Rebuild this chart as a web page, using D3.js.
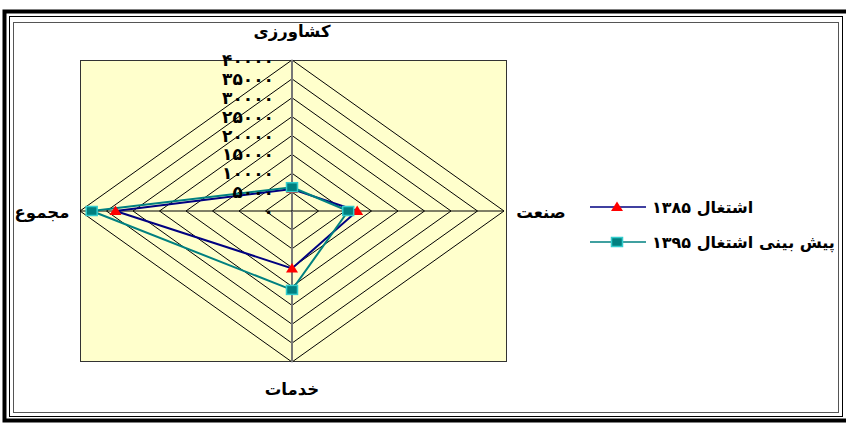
<!DOCTYPE html>
<html>
<head>
<meta charset="utf-8">
<script src="https://cdn.jsdelivr.net/npm/d3@7"></script>
<style>
  body { margin: 0; background: #fff; }
  svg text { font-family: "DejaVu Sans", sans-serif; font-weight: bold; }
</style>
</head>
<body>
<div id="chart"></div>
<script>
var categories = ["کشاورزی", "صنعت", "خدمات", "مجموع"];
var seriesNames = ["اشتغال ۱۳۸۵", "پیش بینی اشتغال ۱۳۹۵"];
var values1385 = [5800, 12300, 15200, 33300];
var values1395 = [6300, 10600, 20900, 37800];
var tickValues = [0, 5000, 10000, 15000, 20000, 25000, 30000, 35000, 40000];

var w = 846, h = 424;
var cx = 292, cy = 211;

function toPersian(n) {
    var digits = "۰۱۲۳۴۵۶۷۸۹";
    return String(n).replace(/[0-9]/g, function(d) { return digits[+d]; });
}

var svg = d3.select("#chart").append("svg")
    .attr("width", w)
    .attr("height", h);

// outer double frame
svg.append("rect").attr("x", 4.5).attr("y", 11.5).attr("width", 846).attr("height", 409)
    .attr("fill", "none").attr("stroke", "#000").attr("stroke-width", 4);
svg.append("rect").attr("x", 9.5).attr("y", 16.5).attr("width", 833).attr("height", 400)
    .attr("fill", "none").attr("stroke", "#000").attr("stroke-width", 1);
svg.append("rect").attr("x", 13.5).attr("y", 22.5).attr("width", 825).attr("height", 390)
    .attr("fill", "#fff").attr("stroke", "#555").attr("stroke-width", 1);

// plot area
svg.append("rect").attr("x", 80.5).attr("y", 60.5).attr("width", 426).attr("height", 301)
    .attr("fill", "#FFFFCC").attr("stroke", "#333").attr("stroke-width", 1);

var rx = d3.scaleLinear().domain([0, 40000]).range([0, 212]);
var ry = d3.scaleLinear().domain([0, 40000]).range([0, 151]);

function pt(v, i) {
    var a = i * Math.PI / 2;
    return [cx + Math.sin(a) * rx(v), cy - Math.cos(a) * ry(v)];
}

// grid rings
svg.selectAll(".ring")
    .data(tickValues.slice(1))
    .enter().append("polygon")
    .attr("class", "ring")
    .attr("points", function(t) {
        return categories.map(function(c, i) { return pt(t, i).join(","); }).join(" ");
    })
    .attr("fill", "none")
    .attr("stroke", "#000")
    .attr("stroke-width", 1);

// spokes
svg.selectAll(".spoke")
    .data(categories)
    .enter().append("line")
    .attr("class", "spoke")
    .attr("x1", cx).attr("y1", cy)
    .attr("x2", function(c, i) { return pt(40000, i)[0]; })
    .attr("y2", function(c, i) { return pt(40000, i)[1]; })
    .attr("stroke", function(c, i) { return i == 0 || i == 2 ? "#777" : "#000"; })
    .attr("stroke-width", function(c, i) { return i == 0 || i == 2 ? 2 : 1; });

// category labels
var labelPos = [[292, 37], [541, 218], [292, 395], [42, 218]];
svg.selectAll(".cat")
    .data(categories)
    .enter().append("text")
    .attr("class", "cat")
    .attr("x", function(c, i) { return labelPos[i][0]; })
    .attr("y", function(c, i) { return labelPos[i][1]; })
    .attr("text-anchor", "middle")
    .attr("font-size", 16.5)
    .text(function(c) { return c; });

var line = d3.line().curve(d3.curveLinearClosed);

function drawSeries(vals, color) {
    svg.append("path")
        .attr("d", line(vals.map(pt)))
        .attr("fill", "none")
        .attr("stroke", color)
        .attr("stroke-width", 2);
}
drawSeries(values1385, "#000080");
drawSeries(values1395, "#008080");

// value labels (drawn over the series lines)
svg.selectAll(".tick")
    .data(tickValues)
    .enter().append("text")
    .attr("class", "tick")
    .attr("x", 274)
    .attr("y", function(t) { return cy - ry(t) + 6; })
    .attr("text-anchor", "end")
    .attr("font-size", 17)
    .text(function(t) { return toPersian(t); });

function triangle(g) {
    g.append("path").attr("d", "M0,-5.5L6,4L-6,4Z").attr("fill", "#FF0000");
}
function square(g) {
    g.append("rect").attr("x", -5.5).attr("y", -4.5).attr("width", 11).attr("height", 9)
        .attr("fill", "#008080").attr("stroke", "#33CCCC").attr("stroke-width", 1.5);
}

values1385.forEach(function(v, i) {
    var p = pt(v, i);
    var g = svg.append("g").attr("transform", "translate(" + p[0] + "," + p[1] + ")");
    triangle(g);
});
values1395.forEach(function(v, i) {
    var p = pt(v, i);
    var g = svg.append("g").attr("transform", "translate(" + p[0] + "," + p[1] + ")");
    square(g);
});

// legend
var legendY = [207, 242];
var legendColors = ["#000080", "#008080"];
var markers = [triangle, square];
seriesNames.forEach(function(name, i) {
    svg.append("line")
        .attr("x1", 590).attr("x2", 646)
        .attr("y1", legendY[i]).attr("y2", legendY[i])
        .attr("stroke", legendColors[i]).attr("stroke-width", 1.5);
    var g = svg.append("g").attr("transform", "translate(617," + legendY[i] + ")");
    markers[i](g);
    svg.append("text")
        .attr("x", 652)
        .attr("y", legendY[i] + 6)
        .attr("text-anchor", "start")
        .attr("font-size", 16)
        .text(name);
});
</script>
</body>
</html>
